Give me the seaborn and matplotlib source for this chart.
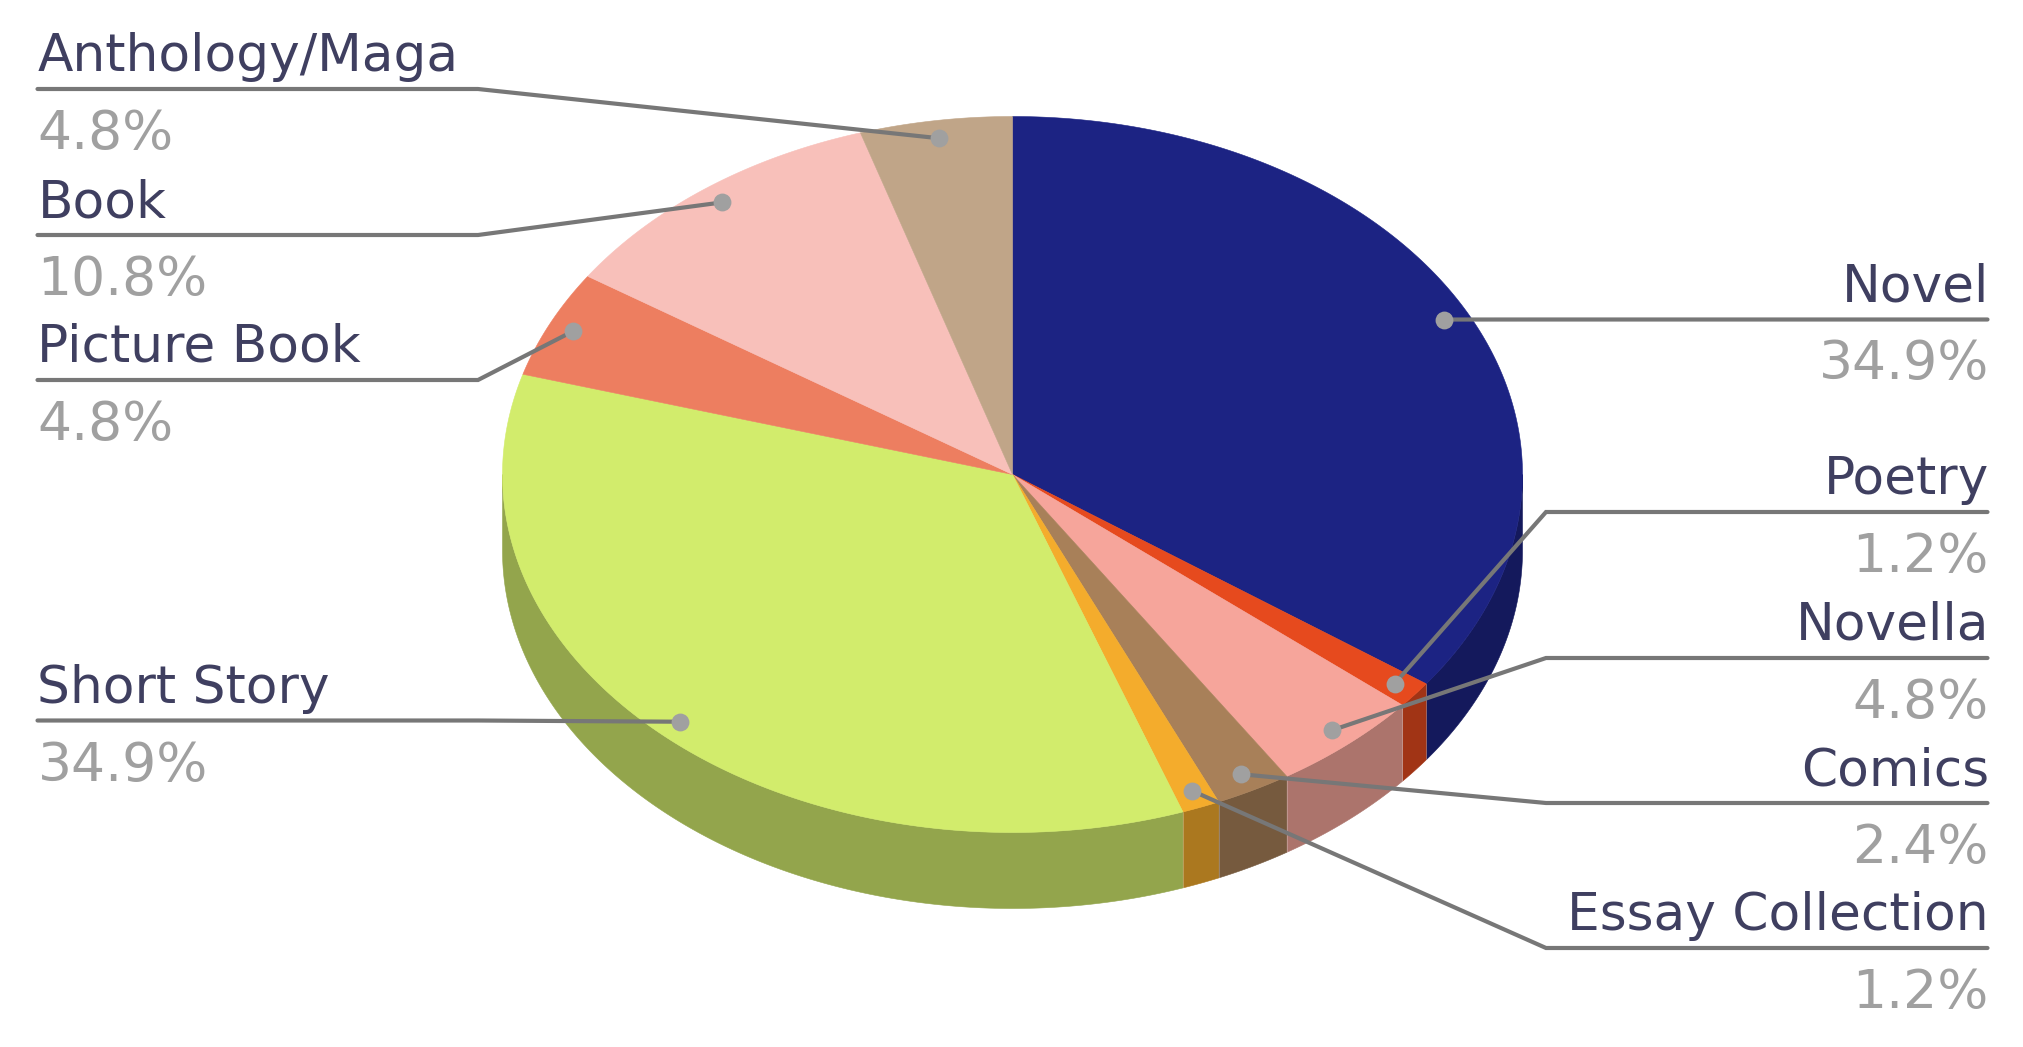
import numpy as np
import pandas as pd
import matplotlib
matplotlib.use("Agg")
import matplotlib.pyplot as plt
import seaborn as sns

categories = ["Novel", "Poetry", "Novella", "Comics", "Essay Collection",
              "Short Story", "Picture Book", "Book", "Anthology/Maga"]
counts = [29, 1, 4, 2, 1, 29, 4, 9, 4]
slice_colors = ["#1C2383", "#E64A1E", "#F6A59B", "#A88059", "#F4AC2C",
                "#D2EC6C", "#ED7E60", "#F8C0BA", "#C0A588"]
label_rows = [319.5, 512, 658, 803, 948, 720.5, 380, 235, 89]
label_sides = ["R", "R", "R", "R", "R", "L", "L", "L", "L"]

W, H = 2023, 1047
CX, CY, RX, RY, DEPTH = 1012.5, 474.5, 510, 358, 76
LINE_C, NAME_C, VALUE_C, DOT_C = "#777777", "#3F3F60", "#A0A0A0", "#A0A0A0"

sns.set_theme(style="white")
plt.rcParams["font.family"] = ["DejaVu Sans"]
palette = sns.color_palette(slice_colors)
shade = 0.70

fig = plt.figure(figsize=(W / 100, H / 100), dpi=100)
ax = fig.add_axes([0, 0, 1, 1])
ax.set_xlim(0, W)
ax.set_ylim(H, 0)
ax.axis("off")

def px(t):
    return CX + RX * np.sin(t)

def py(t):
    return CY - RY * np.cos(t)

fractions = np.array(counts, dtype=float) / sum(counts)
edges = np.concatenate([[0], np.cumsum(fractions)]) * 2 * np.pi

# side walls (visible for the front half of the rim only)
for i, col in enumerate(palette):
    a, b = max(edges[i], np.pi / 2), min(edges[i + 1], 3 * np.pi / 2)
    if b <= a:
        continue
    t = np.linspace(a, b, 200)
    xs = np.concatenate([px(t), px(t[::-1])])
    ys = np.concatenate([py(t), py(t[::-1]) + DEPTH])
    side = tuple(c * shade for c in col)
    ax.fill(xs, ys, color=side, lw=0.4, zorder=2)
    if i > 0 and edges[i] > np.pi / 2:
        ax.plot([px(a), px(a)], [py(a), py(a) + DEPTH], color="#FFFFFF",
                alpha=0.25, lw=0.7, zorder=3)

# top face
for i, col in enumerate(palette):
    t = np.linspace(edges[i], edges[i + 1], 300)
    ax.fill(np.concatenate([[CX], px(t)]), np.concatenate([[CY], py(t)]),
            color=col, lw=0.4, zorder=4)

# leader lines, dots and labels
mids = (edges[:-1] + edges[1:]) / 2
anchors = pd.DataFrame({"x": CX + 0.95 * RX * np.sin(mids),
                        "y": CY - 0.95 * RY * np.cos(mids),
                        "name": categories})
for i, name in enumerate(categories):
    row = label_rows[i]
    ax_, ay_ = anchors.x[i], anchors.y[i]
    if label_sides[i] == "R":
        xs = [ax_, 1546, 1987.5]
        ys = [ay_, row, row]
        tx, ha = 1989, "right"
    else:
        xs = [37.5, 478, ax_]
        ys = [row, row, ay_]
        tx, ha = 37.5, "left"
    ax.plot(xs, ys, color=LINE_C, lw=3.0, solid_joinstyle="miter", zorder=6)
    ax.text(tx, row - 18, name, color=NAME_C, fontsize=37.3, ha=ha, va="baseline", zorder=7)
    ax.text(tx, row + 60, f"{fractions[i] * 100:.1f}%", color=VALUE_C,
            fontsize=38.6, ha=ha, va="baseline", zorder=7)

sns.scatterplot(data=anchors, x="x", y="y", ax=ax, color=DOT_C, s=165,
                linewidth=0, legend=False, zorder=8)
ax.set_xlim(0, W)
ax.set_ylim(H, 0)
ax.set_xlabel("")
ax.set_ylabel("")

fig.savefig("out.png", dpi=100, facecolor="white")
